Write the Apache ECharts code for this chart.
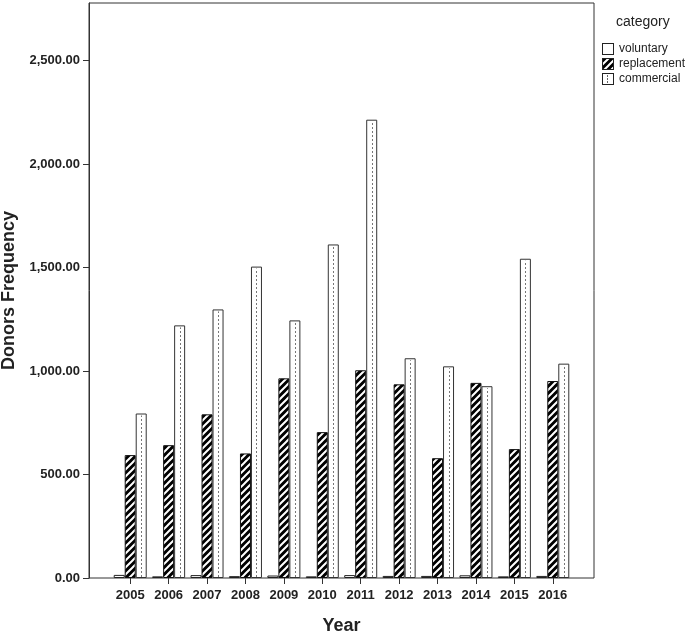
<!DOCTYPE html>
<html>
<head>
<meta charset="utf-8">
<script src="https://cdn.jsdelivr.net/npm/echarts@6/dist/echarts.min.js"></script>
<style>
    html, body { margin: 0; padding: 0; background: #fff; }
    #main { width: 685px; height: 633px; }
</style>
</head>
<body>
<div id="main"></div>
<script>
    // data
    var years = ['2005', '2006', '2007', '2008', '2009', '2010', '2011', '2012', '2013', '2014', '2015', '2016'];
    var voluntary = [15, 8, 14, 9, 12, 8, 14, 10, 10, 13, 8, 10];
    var replacement = [594, 642, 791, 602, 965, 705, 1004, 936, 579, 943, 623, 952];
    var commercial = [795, 1221, 1298, 1505, 1245, 1612, 2215, 1062, 1023, 927, 1543, 1036];
    var yTicks = [0, 500, 1000, 1500, 2000, 2500];

    var barW = 11;
    var font = 'Liberation Sans, Arial, sans-serif';

    // black with white "/" stripes
    function stripeTile() {
        var c = document.createElement('canvas');
        c.width = 7; c.height = 7;
        var g = c.getContext('2d');
        g.fillStyle = '#000';
        g.fillRect(0, 0, 7, 7);
        g.strokeStyle = '#fff';
        g.lineWidth = 2;
        g.beginPath();
        g.moveTo(-1, 8); g.lineTo(8, -1);
        g.moveTo(-1, 1); g.lineTo(1, -1);
        g.moveTo(6, 8); g.lineTo(8, 6);
        g.stroke();
        return c;
    }

    function legendIcon(kind) {
        var c = document.createElement('canvas');
        c.width = 12; c.height = 12;
        var g = c.getContext('2d');
        if (kind === 'stripe') {
            g.fillStyle = g.createPattern(stripeTile(), 'repeat');
        } else {
            g.fillStyle = '#fff';
        }
        g.fillRect(0, 0, 12, 12);
        if (kind === 'dot') {
            g.fillStyle = '#666';
            for (var y = 2; y < 11; y += 3) g.fillRect(5, y, 1, 2);
        }
        g.strokeStyle = '#222';
        g.lineWidth = 1;
        g.strokeRect(0.5, 0.5, 11, 11);
        return 'image://' + c.toDataURL();
    }

    var chart = echarts.init(document.getElementById('main'));
    var yMax = 2779;

    var option = {
        animation: false,
        backgroundColor: '#fff',
        title: {
            text: 'category',
            left: 611, top: 10,
            textStyle: { fontFamily: font, fontSize: 14, fontWeight: 'normal', color: '#222' }
        },
        legend: {
            orient: 'vertical',
            left: 597, top: 38,
            itemWidth: 12, itemHeight: 12, itemGap: 3,
            textStyle: { fontFamily: font, fontSize: 12, color: '#222' },
            data: [
                { name: 'voluntary', icon: legendIcon('plain') },
                { name: 'replacement', icon: legendIcon('stripe') },
                { name: 'commercial', icon: legendIcon('dot') }
            ]
        },
        grid: [
            { left: 111, right: 113, top: 3, bottom: 55, outerBoundsMode: 'none', containLabel: false },
            { left: 89, right: 91, top: 3, bottom: 55, outerBoundsMode: 'none', containLabel: false,
              show: true, borderColor: '#333', borderWidth: 1, backgroundColor: 'transparent' }
        ],
        xAxis: [{
            type: 'category',
            gridIndex: 0,
            data: years,
            name: 'Year',
            nameLocation: 'middle',
            nameGap: 39,
            nameTextStyle: { fontFamily: font, fontSize: 18, fontWeight: 'bold', color: '#222' },
            axisLine: { show: false },
            axisTick: { show: true, alignWithLabel: true, interval: 0, length: 6, lineStyle: { color: '#333' } },
            axisLabel: { fontFamily: font, fontSize: 13, fontWeight: 'bold', color: '#222', margin: 11, interval: 0 }
        }, {
            type: 'value', gridIndex: 1, show: false, min: 0, max: 1
        }],
        yAxis: [{
            type: 'value',
            gridIndex: 0,
            min: 0, max: yMax,
            offset: 22,
            name: 'Donors Frequency',
            nameLocation: 'middle',
            nameGap: 69,
            nameTextStyle: { fontFamily: font, fontSize: 18, fontWeight: 'bold', color: '#222' },
            splitLine: { show: false },
            axisLine: { show: true, lineStyle: { color: '#333' } },
            axisTick: { show: true, length: 6, customValues: yTicks, lineStyle: { color: '#333' } },
            axisLabel: {
                fontFamily: font, fontSize: 13, fontWeight: 'bold', color: '#222', margin: 9,
                customValues: yTicks,
                formatter: function (v) {
                    return v.toLocaleString('en-US', { minimumFractionDigits: 2, maximumFractionDigits: 2 });
                }
            }
        }, {
            type: 'value', gridIndex: 1, show: false, min: 0, max: 1
        }],
        series: [{
            name: 'voluntary',
            type: 'bar',
            barWidth: barW,
            barGap: '0%',
            data: voluntary,
            itemStyle: { color: '#fff', borderColor: '#222', borderWidth: 1 }
        }, {
            name: 'replacement',
            type: 'bar',
            barWidth: barW,
            barGap: '0%',
            data: replacement,
            itemStyle: { color: { image: stripeTile(), repeat: 'repeat' }, borderColor: '#111', borderWidth: 1 }
        }, {
            name: 'commercial',
            type: 'bar',
            barWidth: barW,
            barGap: '0%',
            data: commercial,
            itemStyle: { color: '#fff', borderColor: '#333', borderWidth: 1 }
        }, {
            // dotted centre line inside the commercial bars
            name: 'commercialDots',
            type: 'custom',
            z: 5,
            silent: true,
            data: commercial.map(function (v, i) { return [i, v]; }),
            renderItem: function (params, api) {
                var base = api.coord([api.value(0), 0]);
                var top = api.coord([api.value(0), api.value(1)]);
                var x = Math.round(base[0] + barW) + 0.5;
                return {
                    type: 'line',
                    shape: { x1: x, y1: base[1] - 1, x2: x, y2: top[1] + 2 },
                    style: { stroke: '#777', lineWidth: 1, lineDash: [2, 2] }
                };
            }
        }]
    };
    chart.setOption(option);
</script>
</body>
</html>
